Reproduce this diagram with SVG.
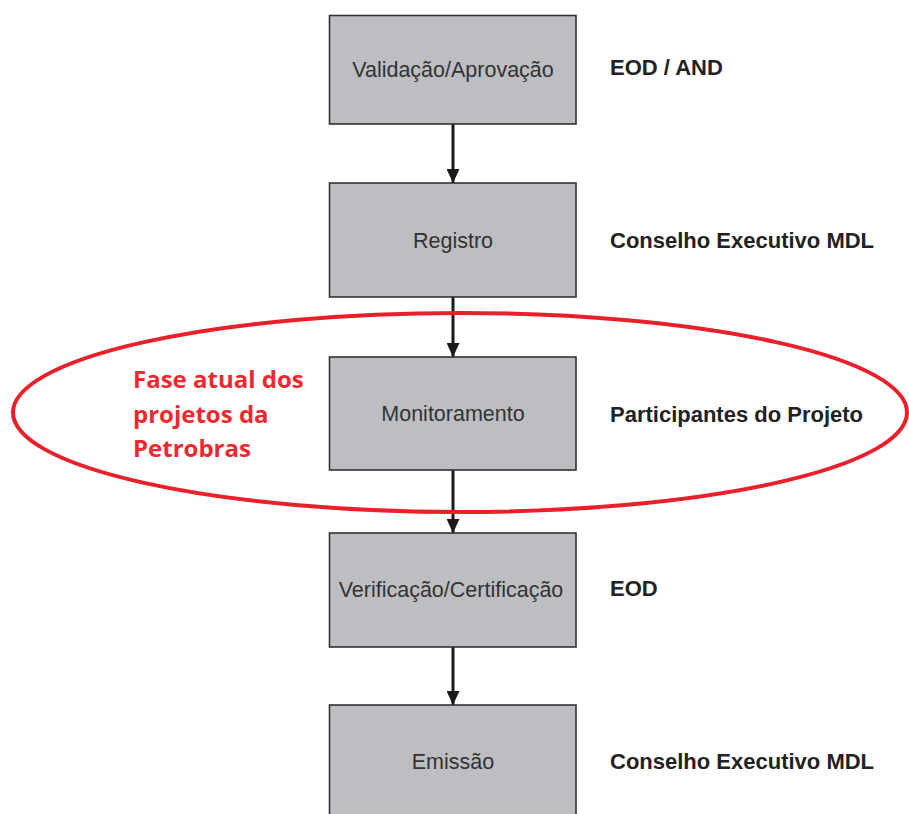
<svg xmlns="http://www.w3.org/2000/svg" width="909" height="814" viewBox="0 0 909 814">
<style>
.box{fill:#bdbec1;stroke:#333;stroke-width:1.6}
.bt{font-family:"Liberation Sans",Arial,sans-serif;font-size:21.5px;fill:#333;text-anchor:middle}
.rl{font-family:"Liberation Sans",Arial,sans-serif;font-size:22px;font-weight:bold;fill:#222}
.red{font-family:"Open Sans","Liberation Sans",sans-serif;font-size:24px;font-weight:bold;fill:#ee2830}
.conn{stroke:#1a1a1a;stroke-width:3;fill:none}
</style>
<defs>
<marker id="ah" markerWidth="14" markerHeight="13" refX="14" refY="6.5" orient="auto" markerUnits="userSpaceOnUse" viewBox="0 0 14 13">
<path d="M0,0 L14,6.5 L0,13 Z" fill="#1a1a1a"/>
</marker>
</defs>
<rect width="909" height="814" fill="#fff"/>
<g id="connectors">
<line class="conn" x1="453" y1="124" x2="453" y2="183" marker-end="url(#ah)"/>
<line class="conn" x1="453" y1="297" x2="453" y2="357" marker-end="url(#ah)"/>
<line class="conn" x1="453" y1="470" x2="453" y2="533" marker-end="url(#ah)"/>
<line class="conn" x1="453" y1="647" x2="453" y2="705" marker-end="url(#ah)"/>
</g>
<g id="n1"><rect class="box" x="329.5" y="15.5" width="246.5" height="108.5"/><text class="bt" x="453" y="77">Validação/Aprovação</text></g>
<g id="n2"><rect class="box" x="329.5" y="183" width="246.5" height="114"/><text class="bt" x="453" y="248">Registro</text></g>
<g id="n3"><rect class="box" x="329.5" y="357" width="246.5" height="113"/><text class="bt" x="453" y="421">Monitoramento</text></g>
<g id="n4"><rect class="box" x="329.5" y="533" width="246.5" height="114"/><text class="bt" x="451" y="597">Verificação/Certificação</text></g>
<g id="n5"><rect class="box" x="329.5" y="705" width="246.5" height="112"/><text class="bt" x="453" y="769">Emissão</text></g>
<g id="labels">
<text class="rl" x="610" y="75">EOD / AND</text>
<text class="rl" x="610" y="248">Conselho Executivo MDL</text>
<text class="rl" x="610" y="422">Participantes do Projeto</text>
<text class="rl" x="610" y="596">EOD</text>
<text class="rl" x="610" y="769">Conselho Executivo MDL</text>
</g>
<g id="highlight">
<ellipse cx="460" cy="412.5" rx="447" ry="99.5" fill="none" stroke="#e8202a" stroke-width="4"/>
<text class="red" x="133" y="388">Fase atual dos</text>
<text class="red" x="133" y="422.5">projetos da</text>
<text class="red" x="133" y="457">Petrobras</text>
</g>
</svg>
